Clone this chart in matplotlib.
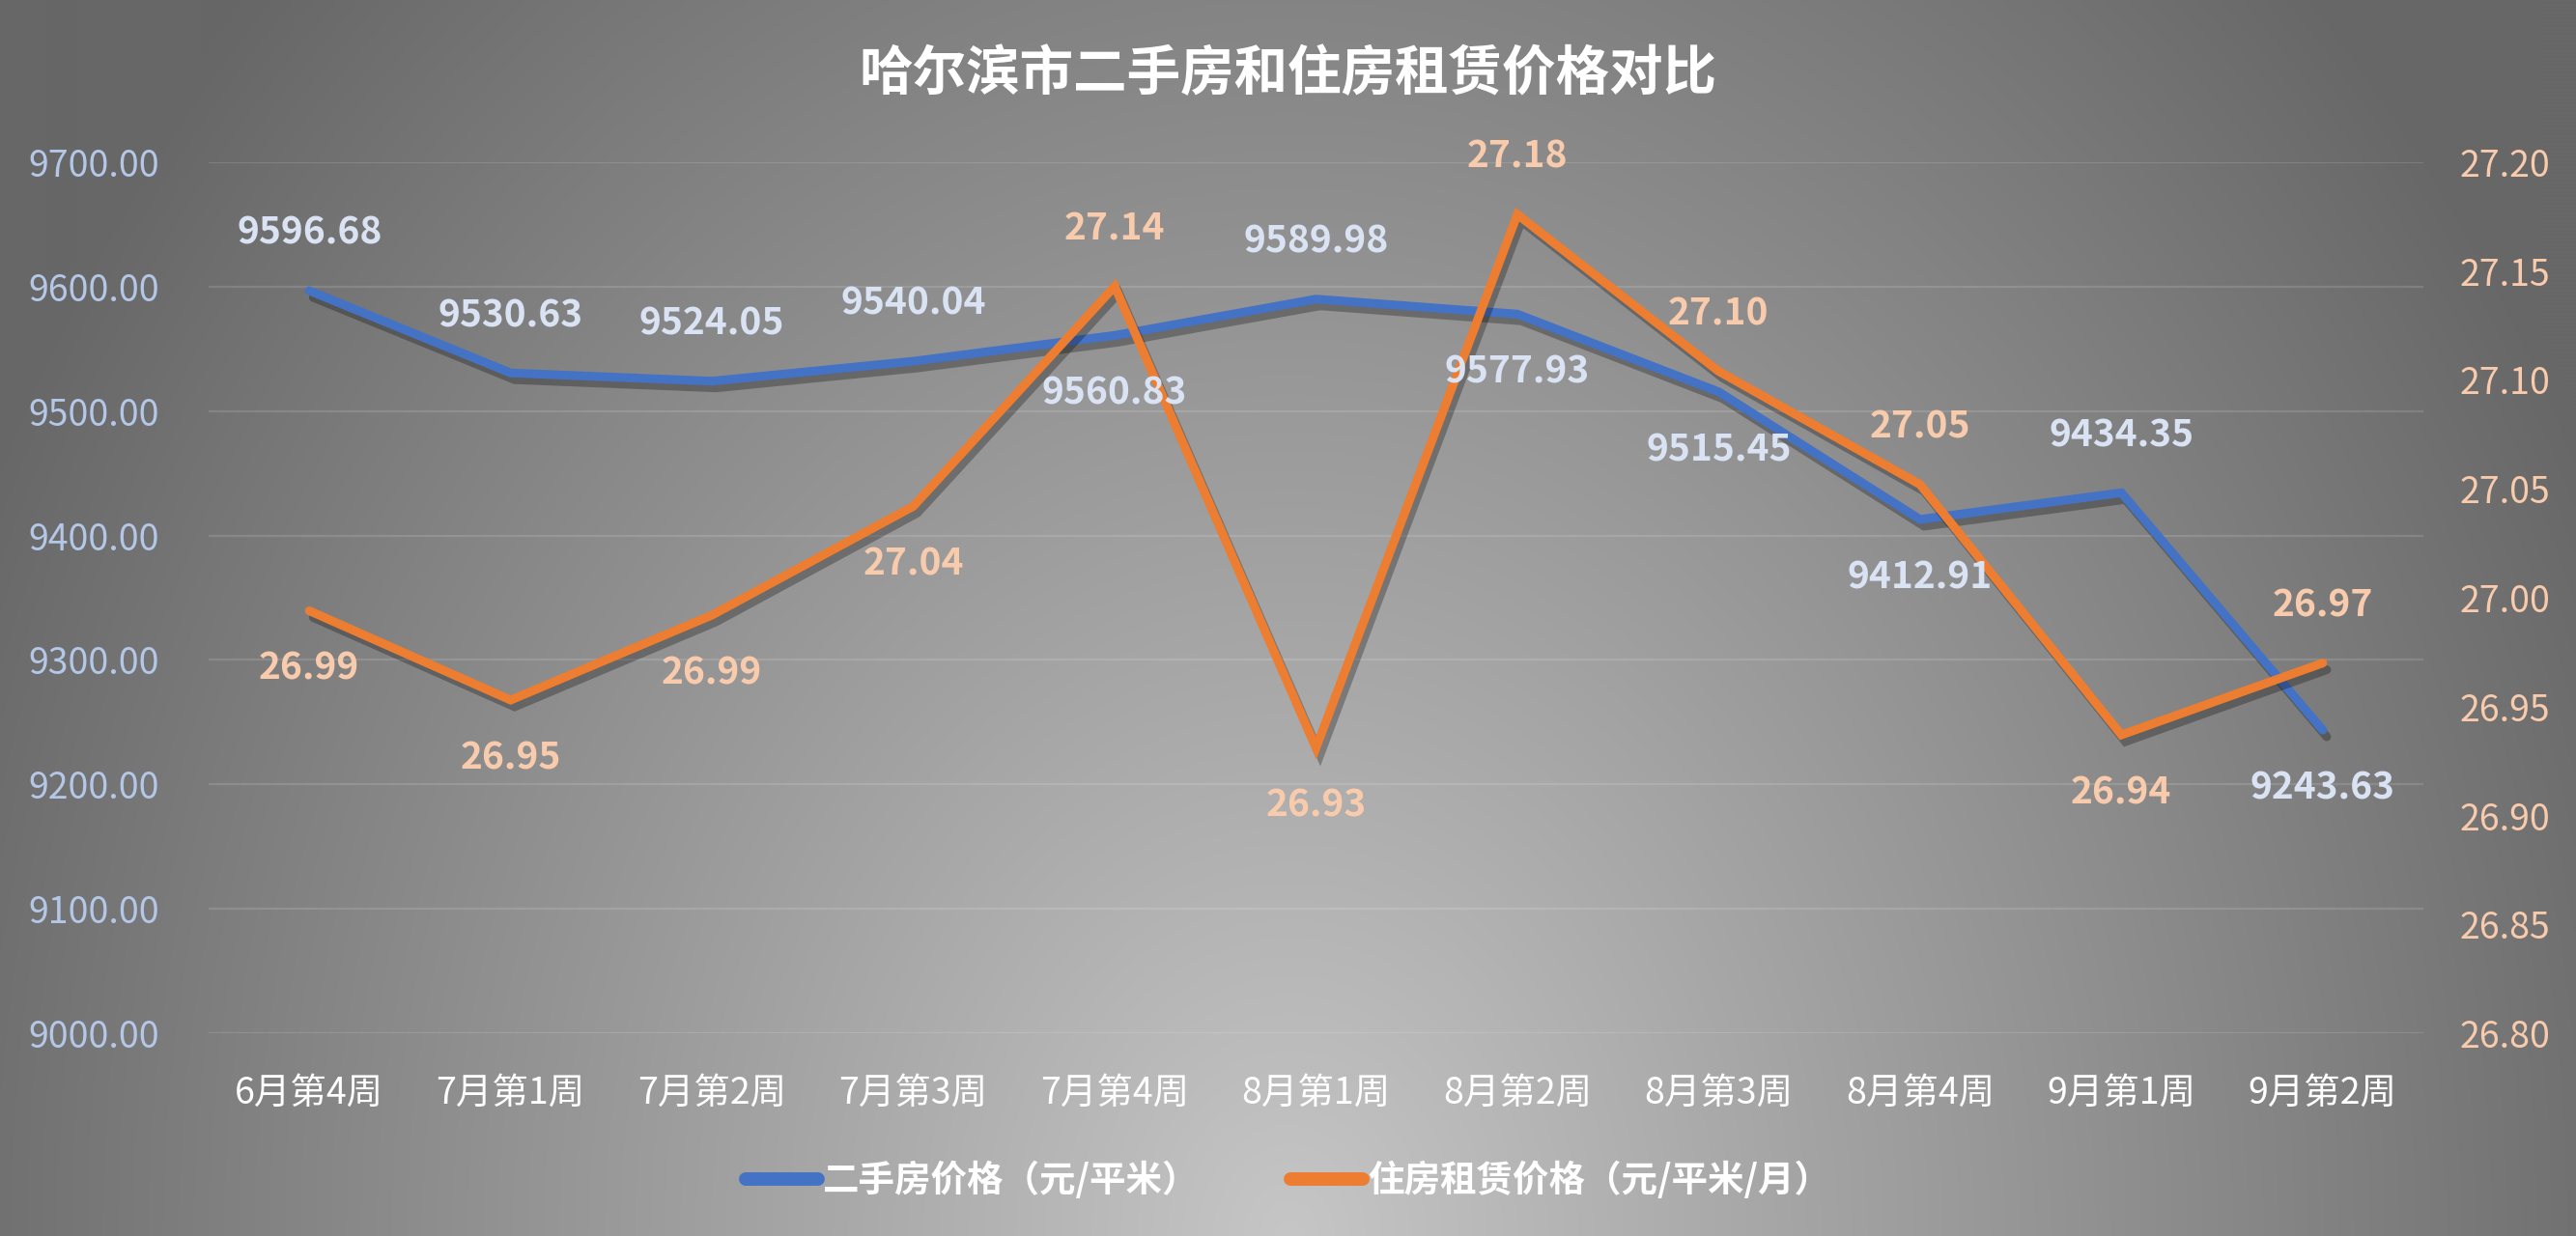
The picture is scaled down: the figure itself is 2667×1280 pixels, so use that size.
import numpy as np
import matplotlib
matplotlib.use("Agg")
import matplotlib.pyplot as plt
import matplotlib.patheffects as pe
from matplotlib.lines import Line2D

plt.rcParams['font.family'] = ['Noto Sans CJK SC', 'DejaVu Sans']

title = "哈尔滨市二手房和住房租赁价格对比"
categories = ["6月第4周", "7月第1周", "7月第2周", "7月第3周", "7月第4周", "8月第1周",
              "8月第2周", "8月第3周", "8月第4周", "9月第1周", "9月第2周"]
second_hand = [9596.68, 9530.63, 9524.05, 9540.04, 9560.83, 9589.98,
               9577.93, 9515.45, 9412.91, 9434.35, 9243.63]
rent = [26.994, 26.953, 26.992, 27.042, 27.143, 26.931, 27.176, 27.104, 27.052, 26.937, 26.970]
series_names = ["二手房价格（元/平米）", "住房租赁价格（元/平米/月）"]
left_ticks = [9000, 9100, 9200, 9300, 9400, 9500, 9600, 9700]
right_ticks = [26.80, 26.85, 26.90, 26.95, 27.00, 27.05, 27.10, 27.15, 27.20]
# label placement: +1 above, -1 below
blue_pos = [1, 1, 1, 1, -1, 1, -1, -1, -1, 1, -1]
orange_pos = [-1, -1, -1, -1, 1, -1, 1, 1, 1, -1, 1]

BLUE = "#4472c4"
ORANGE = "#ed7d31"
BLUE_LBL = "#dae3f3"
ORANGE_LBL = "#f8cbad"
BLUE_TICK = "#b4c7e7"

W, H = 2667, 1280
fig = plt.figure(figsize=(W / 100, H / 100), dpi=100)

# background radial gradient
bg = fig.add_axes([0, 0, 1, 1], zorder=-10)
yy, xx = np.mgrid[0:H:4, 0:W:4]
dx = (xx - W / 2) / 1040.0
dy = (yy - H) / 1280.0
d = np.sqrt(dx ** 2 + dy ** 2)
v = np.clip(198 - 66 * d, 103, 200) / 255.0
img = np.dstack([v, v, v])
bg.imshow(img, extent=[0, 1, 0, 1], aspect='auto', interpolation='bilinear')
bg.axis('off')

ax1 = fig.add_axes([216 / W, 1 - 1070 / H, (2509 - 216) / W, (1070 - 168) / H])
ax1.set_facecolor('none')
ax2 = ax1.twinx()
ax2.set_facecolor('none')

x = np.arange(len(categories))
shadow = [pe.SimpleLineShadow(offset=(3, -5), shadow_color='black', alpha=0.28),
          pe.Normal()]
ax1.plot(x, second_hand, color=BLUE, lw=6.5, solid_capstyle='round',
         solid_joinstyle='miter', path_effects=shadow, zorder=3)
ax2.plot(x, rent, color=ORANGE, lw=6.5, solid_capstyle='round',
         solid_joinstyle='miter', path_effects=shadow, zorder=3)

ax1.set_xlim(-0.5, len(categories) - 0.5)
ax1.set_ylim(left_ticks[0], left_ticks[-1])
ax2.set_ylim(right_ticks[0], right_ticks[-1])
ax1.set_yticks(left_ticks)
ax1.set_yticklabels([f"{t:.2f}" for t in left_ticks])
ax2.set_yticks(right_ticks)
ax2.set_yticklabels([f"{t:.2f}" for t in right_ticks])
ax1.set_xticks(x)
ax1.set_xticklabels(categories)

ax1.tick_params(axis='y', length=0, pad=37, labelsize=27, labelcolor=BLUE_TICK)
ax2.tick_params(axis='y', length=0, pad=27, labelsize=27, labelcolor=ORANGE_LBL)
ax1.tick_params(axis='x', length=0, pad=31, labelsize=27, labelcolor='white')
for a in (ax1, ax2):
    for s in a.spines.values():
        s.set_visible(False)
ax1.grid(axis='y', color='white', alpha=0.13, lw=1.6)
ax1.set_axisbelow(True)

for i, (val, p) in enumerate(zip(second_hand, blue_pos)):
    ax2.annotate(f"{val:.2f}", xy=(i, val), xycoords=ax1.transData,
                 xytext=(0, 43 * p), textcoords='offset points',
                 ha='center', va='center', fontsize=28, fontweight='bold',
                 color=BLUE_LBL, zorder=5)
for i, (val, p) in enumerate(zip(rent, orange_pos)):
    ax2.annotate(f"{val:.2f}", xy=(i, val), xycoords=ax2.transData,
                 xytext=(0, 43 * p), textcoords='offset points',
                 ha='center', va='center', fontsize=28, fontweight='bold',
                 color=ORANGE_LBL, zorder=5)

fig.text(0.5, 1 - 77 / H, title, ha='center', va='center', fontsize=40,
         fontweight='bold', color='white')

handles = [Line2D([], [], color=BLUE, lw=10, solid_capstyle='round'),
           Line2D([], [], color=ORANGE, lw=10, solid_capstyle='round')]
leg = fig.legend(handles, series_names, loc='center', ncol=2,
                 bbox_to_anchor=(0.5, 1 - 1222 / H), frameon=False,
                 prop={'size': 27, 'weight': 'bold'}, handlelength=2.0,
                 handletextpad=0.15, columnspacing=2.5)
for t in leg.get_texts():
    t.set_color('white')

fig.savefig("out.png", dpi=100)
